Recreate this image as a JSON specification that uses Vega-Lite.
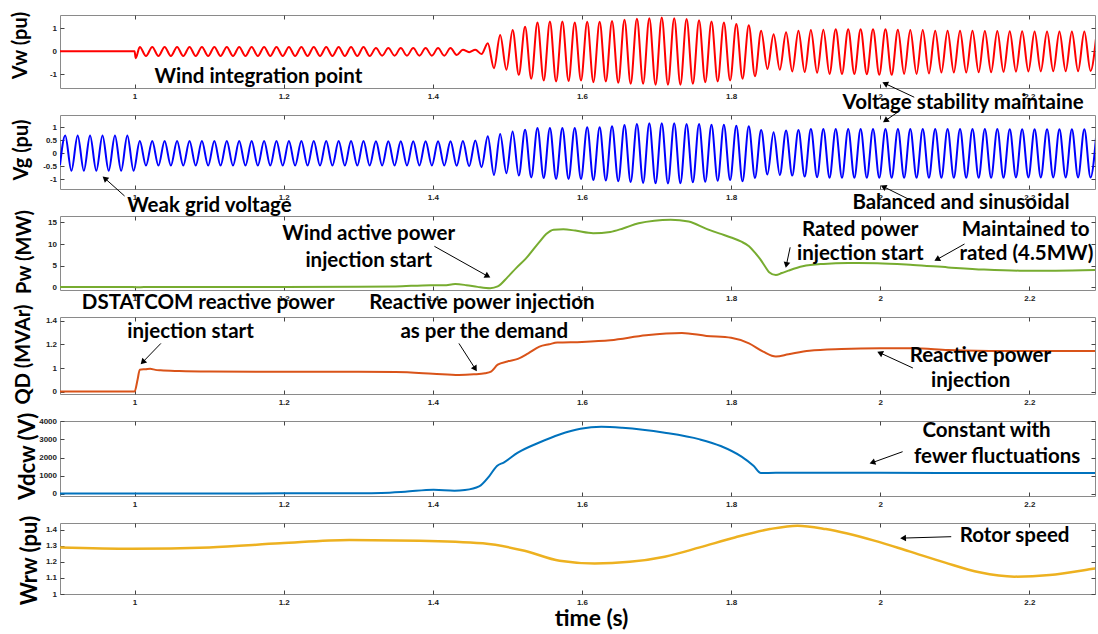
{
"$schema": "https://vega.github.io/schema/vega-lite/v6.json",
"padding": {"left": 10, "top": 10, "right": 0, "bottom": 0},
"bounds": "flush",
"spacing": 27,
"config": {
  "view": {"stroke": "#8a8a8a", "strokeWidth": 1},
  "axis": {"domain": false, "grid": false, "tickSize": -4, "tickColor": "#444", "labelFont": "Liberation Sans", "labelFontSize": 8, "labelFontWeight": "bold", "labelColor": "#222", "titleFont": "Lato", "titleFontSize": 20, "titleFontWeight": "bold", "titleColor": "#000", "titleBaseline": "middle"},
  "axisX": {"labelPadding": 8},
  "axisY": {"labelPadding": 7.5},
  "text": {"font": "Lato", "fontWeight": "bold", "fontSize": 20.5, "baseline": "middle", "color": "#000"}
},
"datasets": {
"vw": [{"t":0.9,"v":0},{"t":1.0,"v":0},{"t":1.0015,"v":-0.3},
{"t":1.007,"v":0.19},{"t":1.0153,"v":-0.21},{"t":1.0237,"v":0.19},{"t":1.032,"v":-0.21},{"t":1.0403,"v":0.19},{"t":1.0487,"v":-0.21},{"t":1.057,"v":0.19},{"t":1.0653,"v":-0.21},{"t":1.0737,"v":0.19},{"t":1.082,"v":-0.21},{"t":1.0903,"v":0.19},{"t":1.0987,"v":-0.21},{"t":1.107,"v":0.19},{"t":1.1153,"v":-0.21},{"t":1.1237,"v":0.19},{"t":1.132,"v":-0.21},{"t":1.1403,"v":0.19},{"t":1.1487,"v":-0.21},{"t":1.157,"v":0.19},{"t":1.1653,"v":-0.21},{"t":1.1737,"v":0.19},{"t":1.182,"v":-0.21},{"t":1.1903,"v":0.19},{"t":1.1987,"v":-0.21},{"t":1.207,"v":0.19},{"t":1.2153,"v":-0.21},{"t":1.2237,"v":0.19},{"t":1.232,"v":-0.21},{"t":1.2403,"v":0.19},{"t":1.2487,"v":-0.21},{"t":1.257,"v":0.19},{"t":1.2653,"v":-0.21},{"t":1.2737,"v":0.19},{"t":1.282,"v":-0.21},{"t":1.2903,"v":0.19},{"t":1.2987,"v":-0.21},{"t":1.307,"v":0.19},{"t":1.3153,"v":-0.21},
{"t":1.3237,"v":0.14},{"t":1.332,"v":-0.19},{"t":1.3403,"v":0.14},{"t":1.3487,"v":-0.19},{"t":1.357,"v":0.14},{"t":1.3653,"v":-0.19},{"t":1.3737,"v":0.14},{"t":1.382,"v":-0.19},{"t":1.3903,"v":0.14},{"t":1.3987,"v":-0.19},{"t":1.407,"v":0.14},{"t":1.4153,"v":-0.19},{"t":1.4237,"v":0.14},{"t":1.432,"v":-0.16},{"t":1.4403,"v":0.07},{"t":1.4487,"v":-0.04},{"t":1.457,"v":0.07},{"t":1.4653,"v":-0.12},
{"t":1.4737,"v":0.35},{"t":1.482,"v":-0.74},{"t":1.4903,"v":0.71},{"t":1.4987,"v":-0.81},{"t":1.507,"v":0.93},{"t":1.5153,"v":-1.03},{"t":1.5237,"v":1.07},{"t":1.532,"v":-1.2},{"t":1.5403,"v":1.26},{"t":1.5487,"v":-1.28},{"t":1.557,"v":1.3},{"t":1.5653,"v":-1.32},{"t":1.5737,"v":1.3},{"t":1.582,"v":-1.3},{"t":1.5903,"v":1.26},{"t":1.5987,"v":-1.28},{"t":1.607,"v":1.29},{"t":1.6153,"v":-1.35},{"t":1.6237,"v":1.29},{"t":1.632,"v":-1.32},{"t":1.6403,"v":1.33},{"t":1.6487,"v":-1.38},{"t":1.657,"v":1.38},{"t":1.6653,"v":-1.42},{"t":1.6737,"v":1.43},{"t":1.682,"v":-1.42},{"t":1.6903,"v":1.45},{"t":1.6987,"v":-1.46},{"t":1.707,"v":1.48},{"t":1.7153,"v":-1.46},{"t":1.7237,"v":1.45},{"t":1.732,"v":-1.46},{"t":1.7403,"v":1.41},{"t":1.7487,"v":-1.42},{"t":1.757,"v":1.36},{"t":1.7653,"v":-1.35},{"t":1.7737,"v":1.3},{"t":1.782,"v":-1.32},{"t":1.7903,"v":1.26},{"t":1.7987,"v":-1.28},{"t":1.807,"v":1.19},{"t":1.8153,"v":-1.2},{"t":1.8237,"v":1.14},{"t":1.832,"v":-1.09},{"t":1.8403,"v":0.9},{"t":1.8487,"v":-0.77},{"t":1.857,"v":0.75},{"t":1.8653,"v":-0.81},{"t":1.8737,"v":0.83},{"t":1.882,"v":-0.88},{"t":1.8903,"v":0.9},{"t":1.8987,"v":-0.91},{"t":1.907,"v":0.93},{"t":1.9153,"v":-0.94},{"t":1.9237,"v":0.94},{"t":1.932,"v":-0.99},{"t":1.9403,"v":0.97},{"t":1.9487,"v":-0.99},{"t":1.957,"v":0.97},{"t":1.9653,"v":-0.99},{"t":1.9737,"v":0.97},{"t":1.982,"v":-1.0},{"t":1.9903,"v":0.97},{"t":1.9987,"v":-1.03},{"t":2.007,"v":0.97},{"t":2.0153,"v":-1.03},{"t":2.0237,"v":0.94},{"t":2.032,"v":-0.99},{"t":2.0403,"v":0.93},{"t":2.0487,"v":-0.99},{"t":2.057,"v":0.93},{"t":2.0653,"v":-0.97},{"t":2.0737,"v":0.9},{"t":2.082,"v":-0.93},{"t":2.0903,"v":0.9},{"t":2.0987,"v":-0.93},{"t":2.107,"v":0.9},{"t":2.1153,"v":-0.93},{"t":2.1237,"v":0.9},{"t":2.132,"v":-0.92},{"t":2.1403,"v":0.89},{"t":2.1487,"v":-0.92},{"t":2.157,"v":0.89},{"t":2.1653,"v":-0.9},{"t":2.1737,"v":0.88},{"t":2.182,"v":-0.89},{"t":2.1903,"v":0.88},{"t":2.1987,"v":-0.88},{"t":2.207,"v":0.87},{"t":2.2153,"v":-0.88},{"t":2.2237,"v":0.87},{"t":2.232,"v":-0.87},{"t":2.2403,"v":0.87},{"t":2.2487,"v":-0.87},{"t":2.257,"v":0.87},{"t":2.2653,"v":-0.87},{"t":2.2737,"v":0.87},{"t":2.282,"v":-0.86},{"t":2.2903,"v":0.87}],
"vg": [{"t":0.9,"v":-0.45},
{"t":0.907,"v":0.68},{"t":0.9153,"v":-0.67},{"t":0.9237,"v":0.68},{"t":0.932,"v":-0.67},{"t":0.9403,"v":0.68},{"t":0.9487,"v":-0.67},{"t":0.957,"v":0.68},{"t":0.9653,"v":-0.67},{"t":0.9737,"v":0.68},{"t":0.982,"v":-0.67},{"t":0.9903,"v":0.68},{"t":0.9987,"v":-0.67},
{"t":1.007,"v":0.47},{"t":1.0153,"v":-0.47},{"t":1.0237,"v":0.47},{"t":1.032,"v":-0.47},{"t":1.0403,"v":0.47},{"t":1.0487,"v":-0.47},{"t":1.057,"v":0.47},{"t":1.0653,"v":-0.47},{"t":1.0737,"v":0.47},{"t":1.082,"v":-0.47},{"t":1.0903,"v":0.47},{"t":1.0987,"v":-0.47},{"t":1.107,"v":0.47},{"t":1.1153,"v":-0.47},{"t":1.1237,"v":0.47},{"t":1.132,"v":-0.47},{"t":1.1403,"v":0.47},{"t":1.1487,"v":-0.47},{"t":1.157,"v":0.47},{"t":1.1653,"v":-0.47},{"t":1.1737,"v":0.47},{"t":1.182,"v":-0.47},{"t":1.1903,"v":0.47},{"t":1.1987,"v":-0.47},{"t":1.207,"v":0.47},{"t":1.2153,"v":-0.47},{"t":1.2237,"v":0.47},{"t":1.232,"v":-0.47},{"t":1.2403,"v":0.47},{"t":1.2487,"v":-0.47},{"t":1.257,"v":0.47},{"t":1.2653,"v":-0.47},{"t":1.2737,"v":0.47},{"t":1.282,"v":-0.47},{"t":1.2903,"v":0.47},{"t":1.2987,"v":-0.47},{"t":1.307,"v":0.47},{"t":1.3153,"v":-0.47},{"t":1.3237,"v":0.46},{"t":1.332,"v":-0.47},{"t":1.3403,"v":0.46},{"t":1.3487,"v":-0.47},{"t":1.357,"v":0.46},{"t":1.3653,"v":-0.47},{"t":1.3737,"v":0.46},{"t":1.382,"v":-0.47},{"t":1.3903,"v":0.46},{"t":1.3987,"v":-0.47},{"t":1.407,"v":0.46},{"t":1.4153,"v":-0.47},{"t":1.4237,"v":0.46},{"t":1.432,"v":-0.48},
{"t":1.4403,"v":0.47},{"t":1.4487,"v":-0.49},{"t":1.457,"v":0.49},{"t":1.4653,"v":-0.53},{"t":1.4737,"v":0.65},{"t":1.482,"v":-0.83},{"t":1.4903,"v":0.74},{"t":1.4987,"v":-0.76},{"t":1.507,"v":0.83},{"t":1.5153,"v":-0.85},{"t":1.5237,"v":0.9},{"t":1.532,"v":-0.92},{"t":1.5403,"v":0.97},{"t":1.5487,"v":-0.94},{"t":1.557,"v":0.97},{"t":1.5653,"v":-0.98},{"t":1.5737,"v":0.97},{"t":1.582,"v":-0.98},{"t":1.5903,"v":0.97},{"t":1.5987,"v":-0.98},{"t":1.607,"v":0.99},{"t":1.6153,"v":-1.02},{"t":1.6237,"v":0.99},{"t":1.632,"v":-1.04},{"t":1.6403,"v":1.03},{"t":1.6487,"v":-1.07},{"t":1.657,"v":1.08},{"t":1.6653,"v":-1.1},{"t":1.6737,"v":1.12},{"t":1.682,"v":-1.13},{"t":1.6903,"v":1.15},{"t":1.6987,"v":-1.14},{"t":1.707,"v":1.15},{"t":1.7153,"v":-1.15},{"t":1.7237,"v":1.15},{"t":1.732,"v":-1.14},{"t":1.7403,"v":1.12},{"t":1.7487,"v":-1.11},{"t":1.757,"v":1.12},{"t":1.7653,"v":-1.09},{"t":1.7737,"v":1.09},{"t":1.782,"v":-1.05},{"t":1.7903,"v":1.09},{"t":1.7987,"v":-1.02},{"t":1.807,"v":1.05},{"t":1.8153,"v":-1.07},{"t":1.8237,"v":1.03},{"t":1.832,"v":-0.94},{"t":1.8403,"v":0.89},{"t":1.8487,"v":-0.81},{"t":1.857,"v":0.8},{"t":1.8653,"v":-0.83},{"t":1.8737,"v":0.87},{"t":1.882,"v":-0.85},{"t":1.8903,"v":0.89},{"t":1.8987,"v":-0.89},{"t":1.907,"v":0.93},{"t":1.9153,"v":-0.91},
{"t":1.9237,"v":0.93},{"t":1.932,"v":-0.93},{"t":1.9403,"v":0.93},{"t":1.9487,"v":-0.93},{"t":1.957,"v":0.93},{"t":1.9653,"v":-0.93},{"t":1.9737,"v":0.93},{"t":1.982,"v":-0.93},{"t":1.9903,"v":0.93},{"t":1.9987,"v":-0.93},{"t":2.007,"v":0.93},{"t":2.0153,"v":-0.93},{"t":2.0237,"v":0.93},{"t":2.032,"v":-0.93},{"t":2.0403,"v":0.93},{"t":2.0487,"v":-0.93},{"t":2.057,"v":0.93},{"t":2.0653,"v":-0.93},{"t":2.0737,"v":0.93},{"t":2.082,"v":-0.93},{"t":2.0903,"v":0.93},{"t":2.0987,"v":-0.93},{"t":2.107,"v":0.93},{"t":2.1153,"v":-0.93},{"t":2.1237,"v":0.93},{"t":2.132,"v":-0.93},{"t":2.1403,"v":0.93},{"t":2.1487,"v":-0.93},{"t":2.157,"v":0.93},{"t":2.1653,"v":-0.93},{"t":2.1737,"v":0.92},{"t":2.182,"v":-0.92},{"t":2.1903,"v":0.92},{"t":2.1987,"v":-0.92},{"t":2.207,"v":0.92},{"t":2.2153,"v":-0.92},{"t":2.2237,"v":0.92},{"t":2.232,"v":-0.92},{"t":2.2403,"v":0.92},{"t":2.2487,"v":-0.92},{"t":2.257,"v":0.92},{"t":2.2653,"v":-0.92},{"t":2.2737,"v":0.92},{"t":2.282,"v":-0.92},{"t":2.2903,"v":0.92}],
"pw": [{"t":0.9,"v":0.1},{"t":0.95,"v":0.1},{"t":0.99,"v":0.1},{"t":1.005,"v":0.0},{"t":1.02,"v":0.1},{"t":1.1,"v":0.1},{"t":1.2,"v":0.1},{"t":1.3,"v":0.12},{"t":1.35,"v":0.2},{"t":1.397,"v":0.5},{"t":1.415,"v":0.45},{"t":1.43,"v":0.75},{"t":1.445,"v":0.5},{"t":1.46,"v":0.1},{"t":1.477,"v":-0.2},{"t":1.487,"v":0.2},{"t":1.5,"v":2.3},{"t":1.512,"v":4.5},{"t":1.524,"v":6.5},{"t":1.543,"v":10.5},{"t":1.552,"v":12.3},{"t":1.562,"v":13.3},{"t":1.575,"v":13.4},{"t":1.591,"v":13.1},{"t":1.615,"v":12.5},{"t":1.638,"v":12.8},{"t":1.655,"v":13.6},{"t":1.676,"v":14.8},{"t":1.697,"v":15.4},{"t":1.719,"v":15.6},{"t":1.743,"v":15.2},{"t":1.767,"v":13.5},{"t":1.785,"v":12.4},{"t":1.8,"v":11.5},{"t":1.813,"v":10.6},{"t":1.824,"v":9.5},{"t":1.832,"v":8.0},{"t":1.839,"v":6.5},{"t":1.846,"v":4.7},{"t":1.851,"v":3.5},{"t":1.86,"v":2.85},{"t":1.868,"v":3.3},{"t":1.877,"v":3.85},{"t":1.896,"v":4.85},{"t":1.924,"v":5.4},{"t":1.957,"v":5.6},{"t":1.996,"v":5.55},{"t":2.044,"v":5.15},{"t":2.091,"v":4.6},{"t":2.139,"v":4.1},{"t":2.187,"v":3.85},{"t":2.235,"v":3.85},{"t":2.29,"v":4.0}],
"qd": [{"t":0.9,"v":0},{"t":1.0,"v":0},{"t":1.004,"v":0.5},{"t":1.007,"v":0.93},{"t":1.015,"v":0.95},{"t":1.021,"v":0.97},{"t":1.028,"v":0.92},{"t":1.035,"v":0.9},{"t":1.06,"v":0.87},{"t":1.1,"v":0.85},{"t":1.2,"v":0.84},{"t":1.3,"v":0.84},{"t":1.35,"v":0.83},{"t":1.4,"v":0.76},{"t":1.435,"v":0.7},{"t":1.455,"v":0.73},{"t":1.47,"v":0.78},{"t":1.478,"v":0.85},{"t":1.487,"v":1.028},{"t":1.5,"v":1.055},{"t":1.514,"v":1.077},{"t":1.528,"v":1.124},{"t":1.543,"v":1.18},{"t":1.556,"v":1.2},{"t":1.567,"v":1.215},{"t":1.6,"v":1.22},{"t":1.638,"v":1.234},{"t":1.686,"v":1.276},{"t":1.734,"v":1.295},{"t":1.767,"v":1.27},{"t":1.8,"v":1.254},{"t":1.824,"v":1.207},{"t":1.843,"v":1.138},{"t":1.86,"v":1.097},{"t":1.877,"v":1.116},{"t":1.905,"v":1.146},{"t":1.948,"v":1.16},{"t":2.0,"v":1.166},{"t":2.044,"v":1.166},{"t":2.091,"v":1.152},{"t":2.163,"v":1.143},{"t":2.29,"v":1.143}],
"vdc": [{"t":0.9,"v":30},{"t":1.0,"v":30},{"t":1.2,"v":35},{"t":1.3,"v":45},{"t":1.331,"v":60},{"t":1.363,"v":127},{"t":1.401,"v":236},{"t":1.429,"v":182},{"t":1.443,"v":218},{"t":1.462,"v":418},{"t":1.476,"v":1000},{"t":1.486,"v":1545},{"t":1.495,"v":1727},{"t":1.514,"v":2273},{"t":1.542,"v":2818},{"t":1.57,"v":3273},{"t":1.598,"v":3582},{"t":1.626,"v":3691},{"t":1.654,"v":3636},{"t":1.711,"v":3364},{"t":1.758,"v":3000},{"t":1.786,"v":2636},{"t":1.814,"v":2050},{"t":1.83,"v":1550},{"t":1.84,"v":1150},{"t":1.86,"v":1170},{"t":1.9,"v":1170},{"t":2.0,"v":1165},{"t":2.1,"v":1160},{"t":2.2,"v":1160},{"t":2.29,"v":1160}],
"wr": [{"t":0.899,"v":1.29},{"t":0.997,"v":1.282},{"t":1.1,"v":1.29},{"t":1.195,"v":1.315},{"t":1.288,"v":1.336},{"t":1.382,"v":1.332},{"t":1.467,"v":1.315},{"t":1.523,"v":1.269},{"t":1.57,"v":1.207},{"t":1.617,"v":1.19},{"t":1.664,"v":1.2},{"t":1.711,"v":1.232},{"t":1.758,"v":1.29},{"t":1.805,"v":1.352},{"t":1.852,"v":1.404},{"t":1.889,"v":1.425},{"t":1.927,"v":1.404},{"t":1.992,"v":1.332},{"t":2.039,"v":1.265},{"t":2.086,"v":1.197},{"t":2.133,"v":1.135},{"t":2.18,"v":1.108},{"t":2.227,"v":1.118},{"t":2.283,"v":1.155},{"t":2.29,"v":1.16}]
},
"vconcat": [
{
 "width": 1035, "height": 73,
 "resolve": {"axis": {"x": "independent", "y": "independent"}},
 "layer": [
  {"data": {"name": "vw"}, "mark": {"type": "line", "color": "#ff0000", "strokeWidth": 2, "interpolate": "monotone", "clip": true},
   "encoding": {
    "x": {"field": "t", "type": "quantitative", "scale": {"domain": [0.9, 2.288], "nice": false, "zero": false}, "axis": {"values": [1,1.2,1.4,1.6,1.8,2,2.2], "title": null, "labelExpr": "datum.value + ''"}},
    "y": {"field": "v", "type": "quantitative", "scale": {"domain": [-1.606, 1.589], "nice": false, "zero": false}, "axis": {"values": [-1,0,1], "title": "Vw (pu)", "titleX": -39.5, "titleY": 30, "labelExpr": "datum.value + ''"}}}},
  {"data": {"values": [{"t":2.0456,"v":-2.01,"t2":2.0076,"v2":-1.43}]}, "mark": {"type": "rule", "color": "#000", "strokeWidth": 1},
   "encoding": {
    "x": {"field": "t", "type": "quantitative", "axis": {"orient": "top", "labels": false, "title": null, "values": [1,1.2,1.4,1.6,1.8,2,2.2]}},
    "y": {"field": "v", "type": "quantitative", "axis": {"orient": "right", "labels": false, "title": null, "values": [-1,0,1]}},
    "x2": {"field": "t2"}, "y2": {"field": "v2"}}},
  {"data": {"values": [{"t":2.0076,"v":-1.43}]}, "mark": {"type": "point", "shape": "triangle", "angle": 295, "filled": true, "size": 45, "color": "#000", "opacity": 1},
   "encoding": {"x": {"field": "t", "type": "quantitative", "axis": null}, "y": {"field": "v", "type": "quantitative", "axis": null}}},
  {"data": {"values": [{"t":1.0268,"v":-1.12,"label":"Wind integration point"},{"t":1.9495,"v":-2.26,"label":"Voltage stability maintained"}]}, "mark": {"type": "text", "align": "left", "limit": 252, "ellipsis": "\u200b"},
   "encoding": {"x": {"field": "t", "type": "quantitative", "axis": null}, "y": {"field": "v", "type": "quantitative", "axis": null}, "text": {"field": "label"}}}
 ]
},
{
 "width": 1035, "height": 74,
 "resolve": {"axis": {"x": "independent", "y": "independent"}},
 "layer": [
  {"data": {"name": "vg"}, "mark": {"type": "line", "color": "#0000ff", "strokeWidth": 2, "interpolate": "monotone", "clip": true},
   "encoding": {
    "x": {"field": "t", "type": "quantitative", "scale": {"domain": [0.9, 2.288], "nice": false, "zero": false}, "axis": {"values": [1,1.2,1.4,1.6,1.8,2,2.2], "title": null, "labelExpr": "datum.value + ''"}},
    "y": {"field": "v", "type": "quantitative", "scale": {"domain": [-1.363, 1.462], "nice": false, "zero": false}, "axis": {"values": [-1,-0.5,0,0.5,1], "title": "Vg (pu)", "titleX": -38.7, "titleY": 34.5, "labelExpr": "datum.value + ''"}}}},
  {"data": {"values": [{"t":2.0255,"v":1.61,"t2":2.008,"v2":1.27},{"t":0.9866,"v":-1.63,"t2":0.9611,"v2":-0.98},{"t":2.0429,"v":-1.82,"t2":2.0054,"v2":-1.29}]}, "mark": {"type": "rule", "color": "#000", "strokeWidth": 1},
   "encoding": {
    "x": {"field": "t", "type": "quantitative", "axis": {"orient": "top", "labels": false, "title": null, "values": [1,1.2,1.4,1.6,1.8,2,2.2]}},
    "y": {"field": "v", "type": "quantitative", "axis": {"orient": "right", "labels": false, "title": null, "values": [-1,-0.5,0,0.5,1]}},
    "x2": {"field": "t2"}, "y2": {"field": "v2"}}},
  {"data": {"values": [{"t":2.008,"v":1.27}]}, "mark": {"type": "point", "shape": "triangle", "angle": 235, "filled": true, "size": 45, "color": "#000", "opacity": 1},
   "encoding": {"x": {"field": "t", "type": "quantitative", "axis": null}, "y": {"field": "v", "type": "quantitative", "axis": null}}},
  {"data": {"values": [{"t":0.9611,"v":-0.98}]}, "mark": {"type": "point", "shape": "triangle", "angle": 311, "filled": true, "size": 45, "color": "#000", "opacity": 1},
   "encoding": {"x": {"field": "t", "type": "quantitative", "axis": null}, "y": {"field": "v", "type": "quantitative", "axis": null}}},
  {"data": {"values": [{"t":2.0054,"v":-1.29}]}, "mark": {"type": "point", "shape": "triangle", "angle": 296, "filled": true, "size": 45, "color": "#000", "opacity": 1},
   "encoding": {"x": {"field": "t", "type": "quantitative", "axis": null}, "y": {"field": "v", "type": "quantitative", "axis": null}}},
  {"data": {"values": [{"t":1.1005,"v":-2.01,"label":"Weak grid voltage"},{"t":2.1082,"v":-1.9,"label":"Balanced and sinusoidal"}]}, "mark": {"type": "text", "align": "center"},
   "encoding": {"x": {"field": "t", "type": "quantitative", "axis": null}, "y": {"field": "v", "type": "quantitative", "axis": null}, "text": {"field": "label"}}}
 ]
},
{
 "width": 1035, "height": 74,
 "resolve": {"axis": {"x": "independent", "y": "independent"}},
 "layer": [
  {"data": {"name": "pw"}, "mark": {"type": "line", "color": "#77ac30", "strokeWidth": 2, "interpolate": "monotone", "clip": true},
   "encoding": {
    "x": {"field": "t", "type": "quantitative", "scale": {"domain": [0.9, 2.288], "nice": false, "zero": false}, "axis": {"values": [1,1.2,1.4,1.6,1.8,2,2.2], "title": null, "labelExpr": "datum.value + ''"}},
    "y": {"field": "v", "type": "quantitative", "scale": {"domain": [-0.62, 16.47], "nice": false, "zero": false}, "axis": {"values": [0,5,10,15], "title": "Pw (MW)", "titleX": -36, "titleY": 35.5, "labelExpr": "datum.value + ''"}}}},
  {"data": {"values": [{"t":1.4021,"v":9.47,"t2":1.4725,"v2":2.68},{"t":1.8792,"v":9.24,"t2":1.8744,"v2":5.38},{"t":2.113,"v":10.0,"t2":2.0772,"v2":6.54}]}, "mark": {"type": "rule", "color": "#000", "strokeWidth": 1},
   "encoding": {
    "x": {"field": "t", "type": "quantitative", "axis": {"orient": "top", "labels": false, "title": null, "values": [1,1.2,1.4,1.6,1.8,2,2.2]}},
    "y": {"field": "v", "type": "quantitative", "axis": {"orient": "right", "labels": false, "title": null, "values": [0,5,10,15]}},
    "x2": {"field": "t2"}, "y2": {"field": "v2"}}},
  {"data": {"values": [{"t":1.4725,"v":2.68}]}, "mark": {"type": "point", "shape": "triangle", "angle": 119, "filled": true, "size": 45, "color": "#000", "opacity": 1},
   "encoding": {"x": {"field": "t", "type": "quantitative", "axis": null}, "y": {"field": "v", "type": "quantitative", "axis": null}}},
  {"data": {"values": [{"t":1.8744,"v":5.38}]}, "mark": {"type": "point", "shape": "triangle", "angle": 192, "filled": true, "size": 45, "color": "#000", "opacity": 1},
   "encoding": {"x": {"field": "t", "type": "quantitative", "axis": null}, "y": {"field": "v", "type": "quantitative", "axis": null}}},
  {"data": {"values": [{"t":2.0772,"v":6.54}]}, "mark": {"type": "point", "shape": "triangle", "angle": 241, "filled": true, "size": 45, "color": "#000", "opacity": 1},
   "encoding": {"x": {"field": "t", "type": "quantitative", "axis": null}, "y": {"field": "v", "type": "quantitative", "axis": null}}},
  {"data": {"values": [{"t":1.314,"v":12.31,"label":"Wind active power"},{"t":1.314,"v":6.07,"label":"injection start"},{"t":1.9732,"v":13.2,"label":"Rated power"},{"t":1.9732,"v":7.69,"label":"injection start"},{"t":2.195,"v":13.2,"label":"Maintained to"},{"t":2.196,"v":7.69,"label":"rated (4.5MW)"}]}, "mark": {"type": "text", "align": "center"},
   "encoding": {"x": {"field": "t", "type": "quantitative", "axis": null}, "y": {"field": "v", "type": "quantitative", "axis": null}, "text": {"field": "label"}}}
 ]
},
{
 "width": 1035, "height": 77,
 "resolve": {"axis": {"x": "independent", "y": "independent"}},
 "layer": [
  {"data": {"name": "qd"}, "mark": {"type": "line", "color": "#d95319", "strokeWidth": 2, "interpolate": "monotone", "clip": true},
   "encoding": {
    "x": {"field": "t", "type": "quantitative", "scale": {"domain": [0.9, 2.288], "nice": false, "zero": false}, "axis": {"values": [1,1.2,1.4,1.6,1.8,2,2.2], "title": null, "labelExpr": "datum.value + ''"}},
    "y": {"field": "v", "type": "quantitative", "scale": {"domain": [-0.106, 1, 1.4295], "range": [77, 51, 0], "nice": false, "zero": false}, "axis": {"values": [0,1,1.2,1.4], "title": "QD (MVAr)", "titleX": -37, "titleY": 37, "labelExpr": "datum.value + ''"}}}},
  {"data": {"values": [{"t":1.0353,"v":1.207,"t2":1.0118,"v2":1.055},{"t":1.435,"v":1.207,"t2":1.4562,"v2":1.0},{"t":2.0438,"v":1.0,"t2":2.0008,"v2":1.124}]}, "mark": {"type": "rule", "color": "#000", "strokeWidth": 1},
   "encoding": {
    "x": {"field": "t", "type": "quantitative", "axis": {"orient": "top", "labels": false, "title": null, "values": [1,1.2,1.4,1.6,1.8,2,2.2]}},
    "y": {"field": "v", "type": "quantitative", "axis": {"orient": "right", "labels": false, "title": null, "values": [0,1,1.2,1.4]}},
    "x2": {"field": "t2"}, "y2": {"field": "v2"}}},
  {"data": {"values": [{"t":1.0118,"v":1.055}]}, "mark": {"type": "point", "shape": "triangle", "angle": 224, "filled": true, "size": 45, "color": "#000", "opacity": 1},
   "encoding": {"x": {"field": "t", "type": "quantitative", "axis": null}, "y": {"field": "v", "type": "quantitative", "axis": null}}},
  {"data": {"values": [{"t":1.4562,"v":1.0}]}, "mark": {"type": "point", "shape": "triangle", "angle": 148, "filled": true, "size": 45, "color": "#000", "opacity": 1},
   "encoding": {"x": {"field": "t", "type": "quantitative", "axis": null}, "y": {"field": "v", "type": "quantitative", "axis": null}}},
  {"data": {"values": [{"t":2.0008,"v":1.124}]}, "mark": {"type": "point", "shape": "triangle", "angle": 295, "filled": true, "size": 45, "color": "#000", "opacity": 1},
   "encoding": {"x": {"field": "t", "type": "quantitative", "axis": null}, "y": {"field": "v", "type": "quantitative", "axis": null}}},
  {"data": {"values": [{"t":1.0988,"v":1.547,"label":"DSTATCOM reactive power"},{"t":1.0751,"v":1.306,"label":"injection start"},{"t":1.4659,"v":1.547,"label":"Reactive power injection"},{"t":1.469,"v":1.306,"label":"as per the demand"},{"t":2.1343,"v":1.099,"label":"Reactive power"},{"t":2.1213,"v":0.465,"label":"injection"}]}, "mark": {"type": "text", "align": "center"},
   "encoding": {"x": {"field": "t", "type": "quantitative", "axis": null}, "y": {"field": "v", "type": "quantitative", "axis": null}, "text": {"field": "label"}}}
 ]
},
{
 "width": 1035, "height": 75,
 "resolve": {"axis": {"x": "independent", "y": "independent"}},
 "layer": [
  {"data": {"name": "vdc"}, "mark": {"type": "line", "color": "#0072bd", "strokeWidth": 2, "interpolate": "monotone", "clip": true},
   "encoding": {
    "x": {"field": "t", "type": "quantitative", "scale": {"domain": [0.9, 2.288], "nice": false, "zero": false}, "axis": {"values": [1,1.2,1.4,1.6,1.8,2,2.2], "title": null, "labelExpr": "datum.value + ''"}},
    "y": {"field": "v", "type": "quantitative", "scale": {"domain": [-110, 4011], "nice": false, "zero": false}, "axis": {"values": [0,1000,2000,3000,4000], "title": "Vdcw (V)", "titleX": -32.5, "titleY": 34.7, "titleFontSize": 22, "labelExpr": "datum.value + ''"}}}},
  {"data": {"values": [{"t":2.03,"v":2324,"t2":1.9906,"v2":1742}]}, "mark": {"type": "rule", "color": "#000", "strokeWidth": 1},
   "encoding": {
    "x": {"field": "t", "type": "quantitative", "axis": {"orient": "top", "labels": false, "title": null, "values": [1,1.2,1.4,1.6,1.8,2,2.2]}},
    "y": {"field": "v", "type": "quantitative", "axis": {"orient": "right", "labels": false, "title": null, "values": [0,1000,2000,3000,4000]}},
    "x2": {"field": "t2"}, "y2": {"field": "v2"}}},
  {"data": {"values": [{"t":1.9906,"v":1742}]}, "mark": {"type": "point", "shape": "triangle", "angle": 250, "filled": true, "size": 45, "color": "#000", "opacity": 1},
   "encoding": {"x": {"field": "t", "type": "quantitative", "axis": null}, "y": {"field": "v", "type": "quantitative", "axis": null}}},
  {"data": {"values": [{"t":2.1426,"v":3478,"label":"Constant with"},{"t":2.1568,"v":2060,"label":"fewer fluctuations"}]}, "mark": {"type": "text", "align": "center"},
   "encoding": {"x": {"field": "t", "type": "quantitative", "axis": null}, "y": {"field": "v", "type": "quantitative", "axis": null}, "text": {"field": "label"}}}
 ]
},
{
 "width": 1035, "height": 71,
 "resolve": {"axis": {"x": "independent", "y": "independent"}},
 "layer": [
  {"data": {"name": "wr"}, "mark": {"type": "line", "color": "#edb120", "strokeWidth": 2.5, "interpolate": "monotone", "clip": true},
   "encoding": {
    "x": {"field": "t", "type": "quantitative", "scale": {"domain": [0.9, 2.288], "nice": false, "zero": false}, "axis": {"values": [1,1.2,1.4,1.6,1.8,2,2.2], "title": "time (s)", "titleX": 531, "titleY": 24, "titleFontSize": 23, "labelExpr": "datum.value + ''"}},
    "y": {"field": "v", "type": "quantitative", "scale": {"domain": [1.0, 1.4417], "nice": false, "zero": false}, "axis": {"values": [1,1.1,1.2,1.3,1.4], "title": "Wrw (pu)", "titleX": -30.5, "titleY": 37, "titleFontSize": 22, "labelExpr": "datum.value + ''"}}}},
  {"data": {"values": [{"t":2.0952,"v":1.3565,"t2":2.0319,"v2":1.348}]}, "mark": {"type": "rule", "color": "#000", "strokeWidth": 1},
   "encoding": {
    "x": {"field": "t", "type": "quantitative", "axis": {"orient": "top", "labels": false, "title": null, "values": [1,1.2,1.4,1.6,1.8,2,2.2]}},
    "y": {"field": "v", "type": "quantitative", "axis": {"orient": "right", "labels": false, "title": null, "values": [1,1.1,1.2,1.3,1.4]}},
    "x2": {"field": "t2"}, "y2": {"field": "v2"}}},
  {"data": {"values": [{"t":2.0319,"v":1.348}]}, "mark": {"type": "point", "shape": "triangle", "angle": 268, "filled": true, "size": 45, "color": "#000", "opacity": 1},
   "encoding": {"x": {"field": "t", "type": "quantitative", "axis": null}, "y": {"field": "v", "type": "quantitative", "axis": null}}},
  {"data": {"values": [{"t":2.1802,"v":1.3627,"label":"Rotor speed"}]}, "mark": {"type": "text", "align": "center"},
   "encoding": {"x": {"field": "t", "type": "quantitative", "axis": null}, "y": {"field": "v", "type": "quantitative", "axis": null}, "text": {"field": "label"}}}
 ]
}
]
}
